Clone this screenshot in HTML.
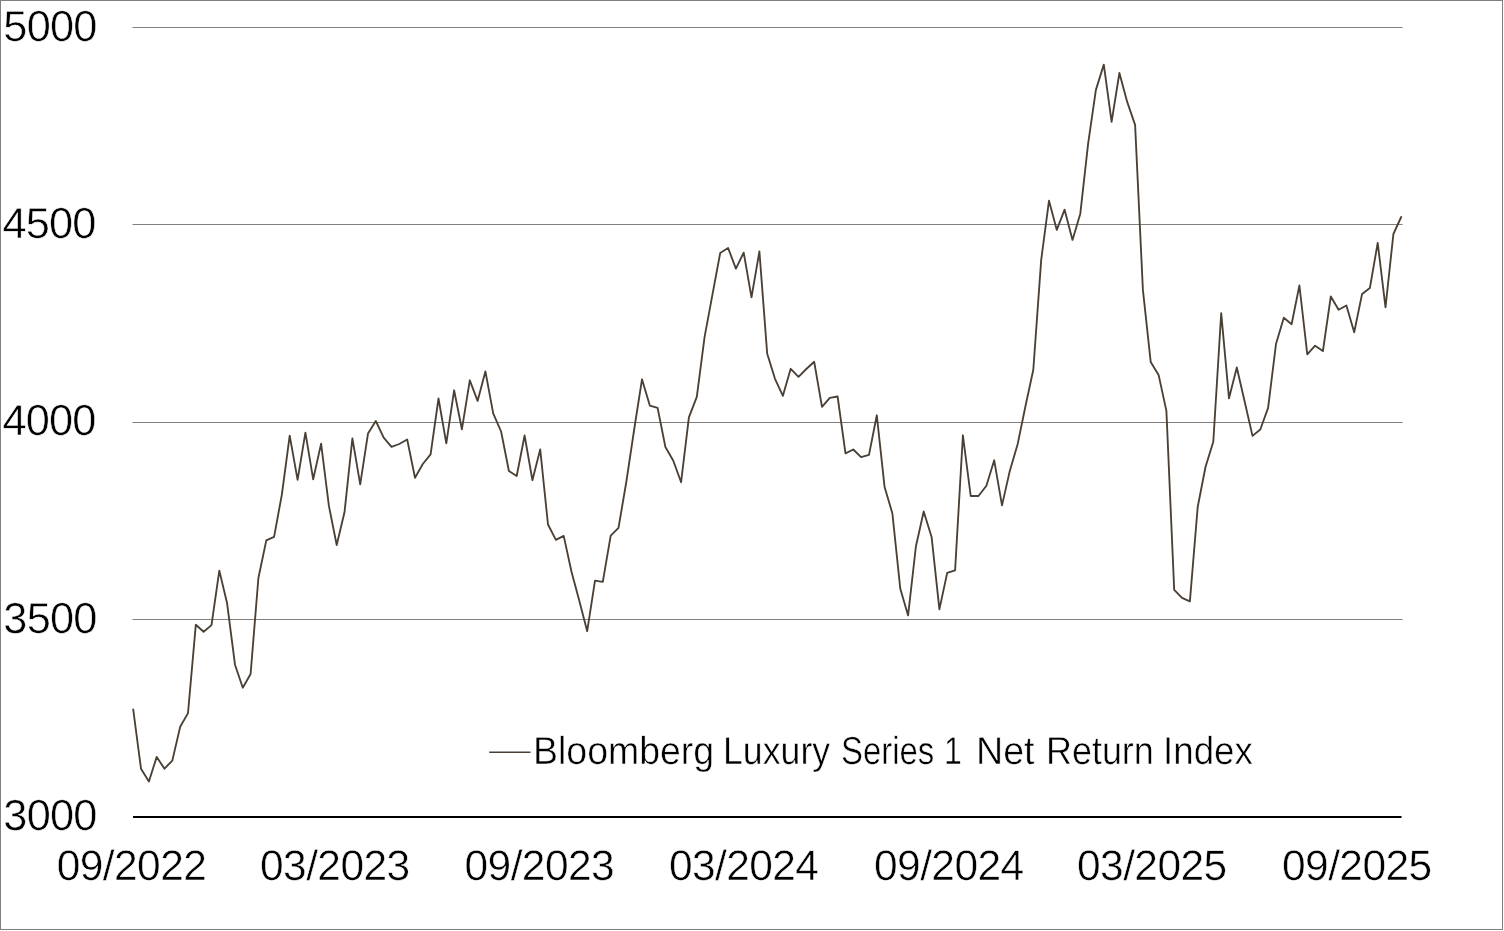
<!DOCTYPE html>
<html><head><meta charset="utf-8"><title>Bloomberg Luxury Series 1 Net Return Index</title>
<style>
html,body{margin:0;padding:0;background:#fff;}
body{-webkit-text-stroke:0.5px #fff;text-rendering:geometricPrecision;width:1504px;height:931px;overflow:hidden;position:relative;font-family:"Liberation Sans",sans-serif;color:#000;}
#frame{position:absolute;left:0;top:0;width:1501px;height:928px;border:1px solid #808080;background:#fff;}
svg{position:absolute;left:0;top:0;}
.yl{position:absolute;left:3.18px;font-size:43.3px;letter-spacing:-0.8px;line-height:43.3px;white-space:nowrap;}
.xl{position:absolute;top:846.45px;font-size:42.5px;letter-spacing:-0.6px;line-height:42.5px;white-space:nowrap;transform:translateX(-50%);}
#lg{position:absolute;left:0;top:731.59px;width:1400px;height:39px;font-size:39px;line-height:39px;white-space:nowrap;}
#lg span{position:absolute;top:0;display:block;transform-origin:0 50%;}
</style></head><body>
<div id="frame"></div>
<svg width="1504" height="931" viewBox="0 0 1504 931">
<line x1="132.5" y1="27.5" x2="1402.5" y2="27.5" stroke="#808080" stroke-width="1"/>
<line x1="132.5" y1="224.5" x2="1402.5" y2="224.5" stroke="#808080" stroke-width="1"/>
<line x1="132.5" y1="422.5" x2="1402.5" y2="422.5" stroke="#808080" stroke-width="1"/>
<line x1="132.5" y1="619.5" x2="1402.5" y2="619.5" stroke="#808080" stroke-width="1"/>
<line x1="133" y1="817" x2="1401.5" y2="817" stroke="#000" stroke-width="2"/>
<polyline fill="none" stroke="#4a4036" stroke-width="1.85" stroke-linejoin="round" stroke-linecap="round" points="133.2,709.4 141.0,768.7 148.9,781.5 156.7,756.9 164.5,768.7 172.3,760.6 180.2,726.8 188.0,713.1 195.8,624.8 203.6,631.8 211.5,625.1 219.3,570.6 227.1,603.3 235.0,664.7 242.8,687.7 250.6,674.0 258.4,578.0 266.3,540.4 274.1,536.8 281.9,494.3 289.7,435.6 297.6,479.9 305.4,432.6 313.2,479.3 321.1,443.6 328.9,505.9 336.7,545.0 344.5,512.3 352.4,438.4 360.2,484.3 368.0,433.6 375.8,421.0 383.7,437.6 391.5,446.8 399.3,444.0 407.2,439.5 415.0,477.8 422.8,464.0 430.6,454.3 438.5,398.5 446.3,443.3 454.1,390.3 461.9,429.3 469.8,380.3 477.6,400.9 485.4,371.4 493.2,413.3 501.1,431.5 508.9,471.0 516.7,476.0 524.6,435.5 532.4,480.2 540.2,449.4 548.0,524.5 555.9,539.9 563.7,535.9 571.5,571.8 579.3,600.8 587.2,631.2 595.0,580.6 602.8,581.8 610.7,535.6 618.5,527.8 626.3,482.0 634.1,430.0 642.0,379.3 649.8,405.6 657.6,407.9 665.4,447.0 673.3,460.8 681.1,482.2 688.9,417.4 696.8,396.9 704.6,336.9 712.4,294.9 720.2,253.0 728.1,248.0 735.9,268.6 743.7,252.6 751.5,297.3 759.4,251.4 767.2,353.8 775.0,378.8 782.9,395.8 790.7,368.8 798.5,376.8 806.3,369.0 814.2,361.8 822.0,406.9 829.8,397.9 837.6,396.5 845.5,453.3 853.3,449.5 861.1,457.1 869.0,454.9 876.8,415.3 884.6,487.1 892.4,513.5 900.3,588.8 908.1,615.4 915.9,546.5 923.7,511.5 931.6,536.9 939.4,609.4 947.2,572.9 955.1,570.3 962.9,435.3 970.7,496.0 978.5,496.0 986.4,485.7 994.2,460.3 1002.0,505.4 1009.8,470.9 1017.7,443.9 1025.5,406.0 1033.3,369.8 1041.2,259.9 1049.0,200.7 1056.8,229.9 1064.6,209.7 1072.5,239.9 1080.3,213.7 1088.1,143.9 1095.9,89.9 1103.8,64.6 1111.6,121.9 1119.4,73.0 1127.2,101.9 1135.1,124.9 1142.9,289.9 1150.7,361.9 1158.6,374.9 1166.4,410.9 1174.2,589.8 1182.0,597.8 1189.9,601.4 1197.7,507.0 1205.5,467.0 1213.3,441.8 1221.2,313.2 1229.0,398.3 1236.8,367.5 1244.7,401.7 1252.5,435.9 1260.3,429.5 1268.1,407.9 1276.0,344.0 1283.8,317.8 1291.6,324.2 1299.4,285.5 1307.3,354.3 1315.1,345.7 1322.9,351.1 1330.8,296.5 1338.6,309.8 1346.4,305.5 1354.2,332.3 1362.1,293.9 1369.9,287.9 1377.7,242.9 1385.5,307.3 1393.4,234.0 1401.2,217.0"/>
<line x1="489.2" y1="752.25" x2="530.5" y2="752.25" stroke="#4a4036" stroke-width="1.6"/>
</svg>
<div class="yl" style="top:5.95px;margin-left:0.2px">5000</div>
<div class="yl" style="top:203.25px;margin-left:-0.8px">4500</div>
<div class="yl" style="top:400.45px;margin-left:-0.8px">4000</div>
<div class="yl" style="top:597.75px;margin-left:0.2px">3500</div>
<div class="yl" style="top:794.95px;margin-left:0.2px">3000</div>
<div class="xl" style="left:131.5px">09/2022</div>
<div class="xl" style="left:334.8px">03/2023</div>
<div class="xl" style="left:539.3px">09/2023</div>
<div class="xl" style="left:743.7px">03/2024</div>
<div class="xl" style="left:948.8px">09/2024</div>
<div class="xl" style="left:1151.8px">03/2025</div>
<div class="xl" style="left:1356.8px">09/2025</div>
<div id="lg"><span style="left:532.52px;transform:scaleX(0.9606)">Bloomberg</span> <span style="left:723.29px;transform:scaleX(0.9150)">Luxury</span> <span style="left:840.72px;transform:scaleX(0.8442)">Series</span> <span style="left:943.82px;transform:scaleX(0.8200)">1</span> <span style="left:976.21px;transform:scaleX(0.9644)">Net</span> <span style="left:1046.07px;transform:scaleX(0.9208)">Return</span> <span style="left:1162.80px;transform:scaleX(0.9420)">Index</span></div>
</body></html>
